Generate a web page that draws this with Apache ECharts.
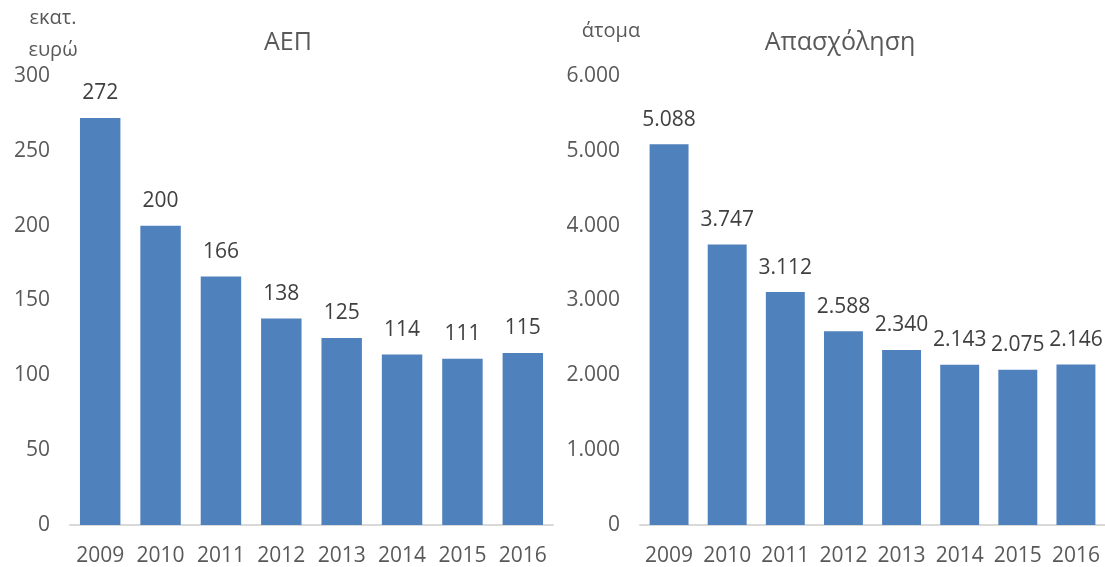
<!DOCTYPE html>
<html>
<head>
<meta charset="utf-8">
<script src="https://cdn.jsdelivr.net/npm/echarts@6/dist/echarts.min.js"></script>
<style>
    html, body { margin: 0; padding: 0; background: #fff; }
    #main { width: 1105px; height: 567px; }
</style>
</head>
<body>
<div id="main"></div>
<script>
// data
var years = ['2009', '2010', '2011', '2012', '2013', '2014', '2015', '2016'];
var gdpValues = [272, 200, 166, 138, 125, 114, 111, 115];        // εκατ. ευρώ
var jobsValues = [5088, 3747, 3112, 2588, 2340, 2143, 2075, 2146]; // άτομα

var FONT = 'Open Sans';
var barColor = '#4f81bd';

// 5088 -> "5.088"
function dotted(v) {
    return String(v).replace(/\B(?=(\d{3})+(?!\d))/g, '.');
}

var chart = echarts.init(document.getElementById('main'));

function xAxis(idx) {
    return {
        type: 'category',
        gridIndex: idx,
        data: years,
        axisLine: { lineStyle: { color: '#d9d9d9', width: 2 } },
        axisTick: { show: false },
        axisLabel: { interval: 0, color: '#595959', fontSize: 21, fontFamily: FONT, margin: 21 }
    };
}

function yAxis(idx, max, interval, fmt) {
    return {
        type: 'value',
        gridIndex: idx,
        min: 0,
        max: max,
        interval: interval,
        splitLine: { show: false },
        axisLine: { show: false },
        axisTick: { show: false },
        axisLabel: { color: '#595959', fontSize: 21, fontFamily: FONT, margin: 20, formatter: fmt }
    };
}

function barSeries(idx, data, fmt) {
    return {
        type: 'bar',
        xAxisIndex: idx,
        yAxisIndex: idx,
        data: data,
        barWidth: '67%',
        itemStyle: { color: barColor },
        label: {
            show: true,
            position: 'top',
            distance: 14,
            color: '#404040',
            fontSize: 21,
            fontFamily: FONT,
            formatter: function (p) { return fmt(p.value); }
        }
    };
}

var option = {
    animation: false,
    textStyle: { fontFamily: FONT },
    grid: [
        { left: 70, right: 552, top: 76, bottom: 42 },
        { left: 640, right: 0, top: 76, bottom: 42 }
    ],
    title: [
        { text: 'ΑΕΠ', left: 283, top: 25, textAlign: 'center',
          textStyle: { color: '#595959', fontSize: 25, fontWeight: 'normal', fontFamily: FONT } },
        { text: 'Απασχόληση', left: 835, top: 25, textAlign: 'center',
          textStyle: { color: '#595959', fontSize: 25, fontWeight: 'normal', fontFamily: FONT } },
        { text: 'εκατ.\nευρώ', left: 48, top: -3, textAlign: 'center',
          textStyle: { color: '#595959', fontSize: 20, fontWeight: 'normal', fontFamily: FONT, lineHeight: 32 } },
        { text: 'άτομα', left: 606, top: 16, textAlign: 'center',
          textStyle: { color: '#595959', fontSize: 20, fontWeight: 'normal', fontFamily: FONT } }
    ],
    xAxis: [xAxis(0), xAxis(1)],
    yAxis: [
        yAxis(0, 300, 50, function (v) { return String(v); }),
        yAxis(1, 6000, 1000, dotted)
    ],
    series: [
        barSeries(0, gdpValues, function (v) { return String(v); }),
        barSeries(1, jobsValues, dotted)
    ]
};

chart.setOption(option);
</script>
</body>
</html>
